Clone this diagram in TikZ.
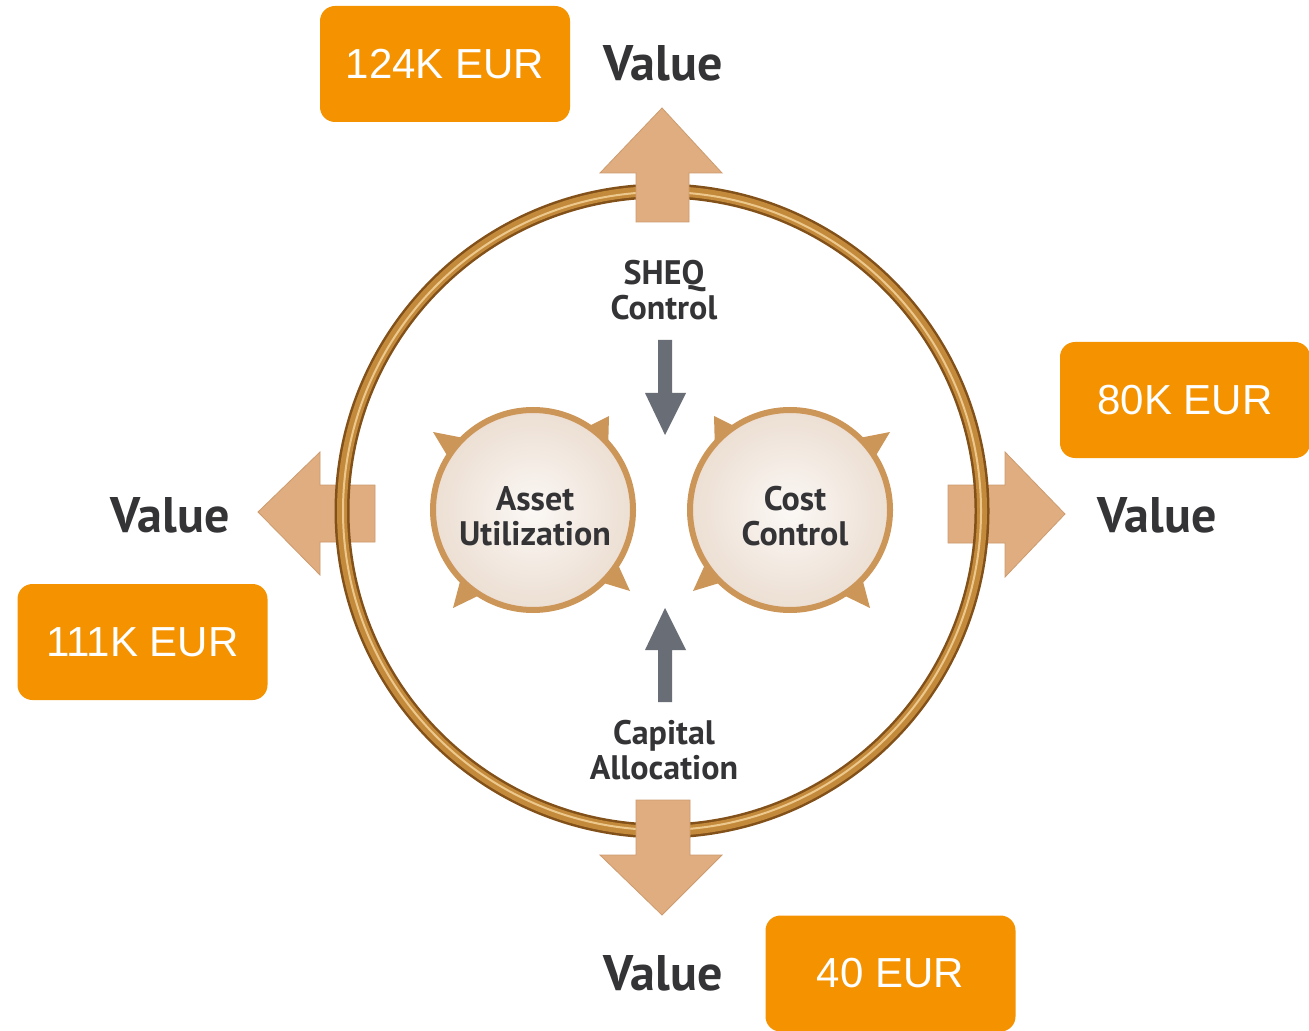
\documentclass[tikz,border=0pt]{standalone}
\usepackage{fontspec}
\setmainfont{Liberation Sans}
\newfontfamily\ptsans{PT Sans}
\definecolor{boxorange}{RGB}{244,146,0}
\definecolor{arrowtan}{RGB}{223,173,127}
\definecolor{arrowedge}{RGB}{205,155,110}
\definecolor{ringdark}{RGB}{130,80,25}
\definecolor{ringmid}{RGB}{196,138,60}
\definecolor{ringlight}{RGB}{236,200,140}
\definecolor{rimcol}{RGB}{204,150,88}
\definecolor{fillin}{RGB}{251,248,245}
\definecolor{fillout}{RGB}{236,222,210}
\definecolor{textgray}{RGB}{52,52,55}
\definecolor{arrowgray}{RGB}{105,110,118}
\tikzset{
  valarrow/.style={fill=arrowtan, draw=arrowedge, line width=0.4pt, line join=miter},
  grayarrow/.style={fill=arrowgray, draw=none},
  valuelbl/.style={font=\ptsans\bfseries\fontsize{25}{28}\selectfont, text=textgray, inner sep=0pt},
  innerlbl/.style={font=\ptsans\bfseries\fontsize{17}{17.5}\selectfont, text=textgray, align=center, inner sep=0pt},
  eurbox/.style={fill=boxorange, rounded corners=7.5pt, minimum width=125pt, minimum height=58pt, text=white, font=\fontsize{21}{24}\selectfont, inner sep=0pt},
  barb/.style={fill=rimcol, draw=none},
}
\begin{document}
\begin{tikzpicture}[x=0.5pt,y=-0.5pt]
\useasboundingbox (0,0) rectangle (1309,1031);
\fill[white] (0,0) rectangle (1309,1031);

% left and right value arrows (under the ring)
\path[valarrow] (258,512) -- (320,452) -- (320,485) -- (375,485) -- (375,542) -- (320,542) -- (320,575) -- cycle;
\path[valarrow] (1065,514) -- (1005,452) -- (1005,485) -- (948,485) -- (948,543) -- (1005,543) -- (1005,577) -- cycle;

% big ring
\draw[ringdark, line width=7.5pt] (662,511) circle[radius=320];
\draw[ringmid, line width=5pt] (662,511) circle[radius=320];
\draw[ringlight, line width=1pt] (662,511) circle[radius=319];

% top and bottom value arrows (over the ring)
\path[valarrow] (662,108) -- (722,173) -- (689,173) -- (689,222) -- (636,222) -- (636,173) -- (600,173) -- cycle;
\path[valarrow] (662,915) -- (722,855) -- (690,855) -- (690,800) -- (636,800) -- (636,855) -- (600,855) -- cycle;

% barbs of the inner circles
\fill[barb] (433,432) -- (469,439) -- (451,462) -- cycle;
\fill[barb] (609,416) -- (608,452) -- (583,429) -- cycle;
\fill[barb] (453,608) -- (462,574) -- (486,592) -- cycle;
\fill[barb] (630,591) -- (597,581) -- (615,558) -- cycle;
\fill[barb] (890,432) -- (854,439) -- (872,462) -- cycle;
\fill[barb] (714,416) -- (715,452) -- (740,429) -- cycle;
\fill[barb] (870,608) -- (861,574) -- (837,592) -- cycle;
\fill[barb] (693,591) -- (726,581) -- (708,558) -- cycle;

% inner circles
\shade[inner color=fillin, outer color=fillout] (533,510) circle[radius=101];
\draw[rimcol, line width=3pt] (533,510) circle[radius=100];
\shade[inner color=fillin, outer color=fillout] (790,510) circle[radius=101];
\draw[rimcol, line width=3pt] (790,510) circle[radius=100];

% gray arrows
\path[grayarrow] (658,340) -- (672,340) -- (672,393) -- (686,393) -- (665,435) -- (645,393) -- (658,393) -- cycle;
\path[grayarrow] (658,702) -- (672,702) -- (672,650) -- (686,650) -- (665,608) -- (645,650) -- (658,650) -- cycle;

% texts
\node[innerlbl] (sheq) at (664,290) {SHEQ\\Control};
\node[innerlbl] (capital) at (664,750) {Capital\\Allocation};
\node[innerlbl] (asset) at (535,516) {Asset\\Utilization};
\node[innerlbl] (cost) at (795,516) {Cost\\Control};

\node[valuelbl] (vtop) at (663,63) {Value};
\node[valuelbl] (vleft) at (170,515) {Value};
\node[valuelbl] (vright) at (1157,515) {Value};
\node[valuelbl] (vbottom) at (663,973) {Value};

% orange boxes
\node[eurbox] (b124) at (445,64) {124K EUR};
\node[eurbox] (b80) at (1185,400) {80K EUR};
\node[eurbox] (b111) at (142.5,642) {111K EUR};
\node[eurbox] (b40) at (890.5,973.5) {40 EUR};
\end{tikzpicture}
\end{document}
